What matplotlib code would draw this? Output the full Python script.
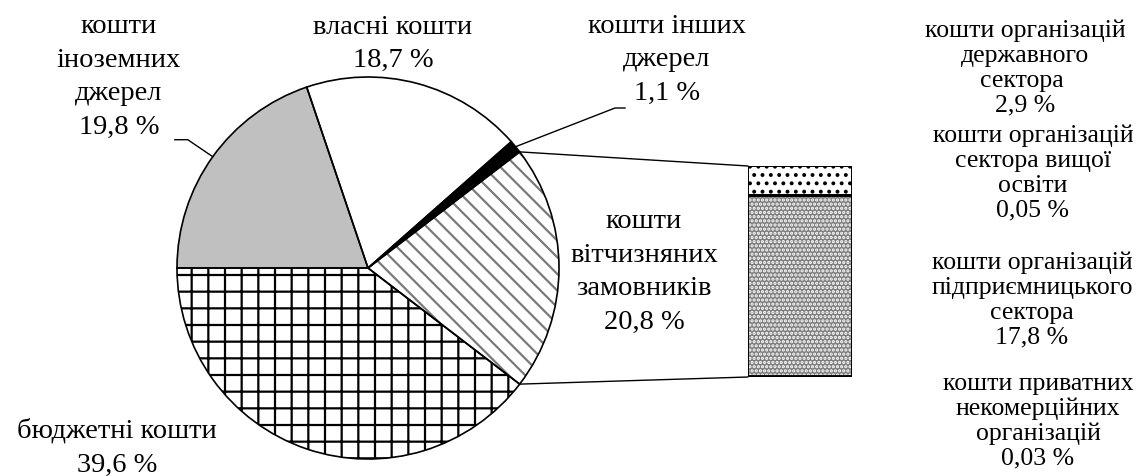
import numpy as np
import matplotlib.pyplot as plt
from matplotlib.patches import Wedge, ConnectionPatch

plt.rcParams['font.family'] = ['Liberation Serif', 'DejaVu Serif']
plt.rcParams['hatch.linewidth'] = 1.6

# pie, counterclockwise from the left
pie_names = ['бюджетні кошти', 'кошти вітчизняних замовників', 'кошти інших джерел',
             'власні кошти', 'кошти іноземних джерел']
pie_values = [39.6, 20.8, 1.1, 18.7, 19.8]
pie_texts = ['бюджетні кошти\n39,6 %', 'кошти\nвітчизняних\nзамовників\n20,8 %',
             'кошти інших\nджерел\n1,1 %', 'власні кошти\n18,7 %',
             'кошти\nіноземних\nджерел\n19,8 %']

# breakdown of "кошти вітчизняних замовників", bottom to top
bar_values = [0.03, 17.8, 0.05, 2.9]
bar_texts = ['кошти приватних\nнекомерційних\nорганізацій\n0,03 %',
             'кошти організацій\nпідприємницького\nсектора\n17,8 %',
             'кошти організацій\nсектора вищої\nосвіти\n0,05 %',
             'кошти організацій\nдержавного\nсектора \n2,9 %']

W, H = 1142, 476
def Y(y):
    return H - y

fig = plt.figure(figsize=(W / 100, H / 100), dpi=100)
ax = fig.add_axes([0, 0, 1, 1])

cx, cy, r = 368, Y(268), 191
faces = ['white', 'white', 'black', 'white', '#c0c0c0']
hatches = ['+', '\\\\', None, None, None]
hcolors = ['black', '#7a7a7a', 'black', 'white', '#c0c0c0']

wedges, _ = ax.pie(pie_values, startangle=180, counterclock=True, center=(cx, cy),
                   radius=r, explode=[0.025, 0, 0, 0, 0], colors=faces,
                   wedgeprops=dict(linewidth=0))
for w, h, hc in zip(wedges, hatches, hcolors):
    w.set_edgecolor(hc)
    if h:
        w.set_hatch(h)
    ax.add_patch(Wedge(w.center, w.r, w.theta1, w.theta2, fill=False,
                       edgecolor='black', linewidth=1.2, zorder=3))

ax.set_xlim(0, W)
ax.set_ylim(0, H)
ax.set_aspect('equal')
ax.axis('off')

# bar of the breakdown
bax = fig.add_axes([748 / W, (H - 377) / H, 104 / W, 211 / H])
total = sum(bar_values)
bottoms = np.cumsum([0] + bar_values[:-1])
bfaces = ['black', '#7d7d7d', 'white', 'white']
bhatch = [None, '....', None, '..']
bhc = ['black', 'white', 'white', 'black']
for v, b, fc, hh, hc in zip(bar_values, bottoms, bfaces, bhatch, bhc):
    bax.bar(0, v, bottom=b, width=1, color=fc, edgecolor=hc, linewidth=0, hatch=hh)
for v, b in zip(bar_values[1:], bottoms[1:]):
    bax.bar(0, v, bottom=b, width=1, fill=False, edgecolor='black', linewidth=1.4)
bax.bar(0, bar_values[0], bottom=0, width=1, fill=False, edgecolor='black', linewidth=3.5)
bax.set_xlim(-0.5, 0.5)
bax.set_ylim(0, total)
bax.axis('off')

# connectors from the "вітчизняних замовників" slice to the bar
dom = wedges[1]
for ang, yb in [(dom.theta2, total), (dom.theta1, 0)]:
    p = (cx + r * np.cos(np.radians(ang)), cy + r * np.sin(np.radians(ang)))
    con = ConnectionPatch(xyA=p, coordsA=ax.transData, xyB=(-0.5, yb),
                          coordsB=bax.transData, color='black', linewidth=1.0)
    fig.add_artist(con)

# leader lines
def mid_point(w):
    a = np.radians((w.theta1 + w.theta2) / 2)
    return w.center[0] + w.r * np.cos(a), w.center[1] + w.r * np.sin(a)

fx, fy = mid_point(wedges[4])
ax.plot([fx, fx - 25, fx - 38], [fy, fy + 17, fy + 17], color='black', lw=1.0)
ox, oy = mid_point(wedges[2])
ax.plot([ox, 615, 625], [oy, Y(108), Y(108)], color='black', lw=1.0)

fs = 20.5
ls = 1.45
ax.text(117, Y(448), pie_texts[0], ha='center', va='center', fontsize=fs, linespacing=ls)
ax.text(644, Y(272), pie_texts[1], ha='center', va='center', fontsize=fs, linespacing=ls)
ax.text(667, Y(60), pie_texts[2], ha='center', va='center', fontsize=fs, linespacing=ls)
ax.text(393, Y(44), pie_texts[3], ha='center', va='center', fontsize=fs, linespacing=ls)
ax.text(119, Y(77), pie_texts[4], ha='center', va='center', fontsize=fs, linespacing=ls)

rx = [1038, 1032, 1033, 1025]
ry = [421, 300, 173, 68]
for t, x, y in zip(bar_texts, rx, ry):
    ax.text(x, Y(y), t, ha='center', va='center', fontsize=18.5, linespacing=1.15)

fig.savefig('out.png', dpi=100)
